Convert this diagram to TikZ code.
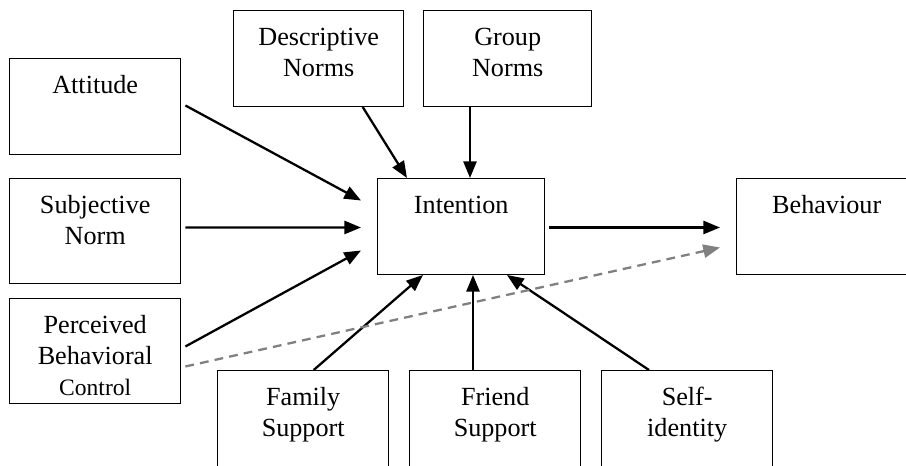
\documentclass[tikz,border=0pt]{standalone}
\usepackage{fontspec}
\setmainfont{Liberation Serif}
\usetikzlibrary{arrows.meta, positioning, calc}

\begin{document}
\begin{tikzpicture} [
    x=0.02cm, y=-0.02cm,
    box/.style={rectangle, draw=black, line width=0.8pt, anchor=north west, inner xsep=0pt, inner ysep=0pt,
        text width=#1*0.02cm, align=center, font=\fontsize{14.9}{17.6}\selectfont, text height=19.8pt, text depth=34.6pt},
    box/.default=170,
    tallbox/.style={box=171, text depth=39.7pt},
    arrow/.style={-{Triangle[length=9.5pt, width=7.5pt]}, line width=1.3pt},
    link/.style={arrow, gray, dashed, dash pattern=on 5pt off 3.5pt}
]

% Frame of the page
\clip (0,0) rectangle (906,466);

% Left column
\node[box=171] (att) at (9,58) {Attitude};
\node[tallbox] (subj) at (9,178) {Subjective\\Norm};
\node[tallbox] (pbc) at (9,298) {Perceived\\Behavioral\\{\fontsize{13.4}{17}\selectfont Control}};

% Top row
\node[box] (desc) at (233,10) {Descriptive\\Norms};
\node[box=168] (group) at (423,10) {Group\\Norms};

% Middle
\node[box=167] (int) at (377,178) {Intention};
\node[box=180] (beh) at (736,178) {Behaviour};

% Bottom row
\node[box=171] (fam) at (217,370) {Family\\Support};
\node[box=171] (friend) at (409,370) {Friend\\Support};
\node[box=171] (self) at (601,370) {Self-\\identity};

% Arrows into Intention
\draw[arrow] ($(att.east)+(4,-1)$) -- ($(int.west)+(-16,-26)$);
\draw[arrow] ($(subj.east)+(4,-3.5)$) -- ($(int.west)+(-16,1)$);
\draw[arrow] ($(pbc.east)+(4,-4.5)$) -- ($(int.west)+(-16,24)$);
\draw[arrow] ($(desc.south)+(44,0)$) -- ($(int.north west)+(30,0)$);
\draw[arrow] ($(group.south west)+(47,0)$) -- ($(int.north west)+(93,0)$);
\draw[arrow] ($(fam.north)+(10.5,0)$) -- ($(int.south west)+(46,0)$);
\draw[arrow] ($(friend.north west)+(64,0)$) -- ($(int.south west)+(96,0)$);
\draw[arrow] ($(self.north west)+(48,0)$) -- ($(int.south west)+(130,0)$);

% Intention to Behaviour
\draw[arrow] ($(int.east)+(4,1)$) -- ($(beh.west)+(-16,1)$);
\draw[link] ($(pbc.east)+(4,15.5)$) -- ($(beh.west)+(-16,21)$);

\end{tikzpicture}
\end{document}
